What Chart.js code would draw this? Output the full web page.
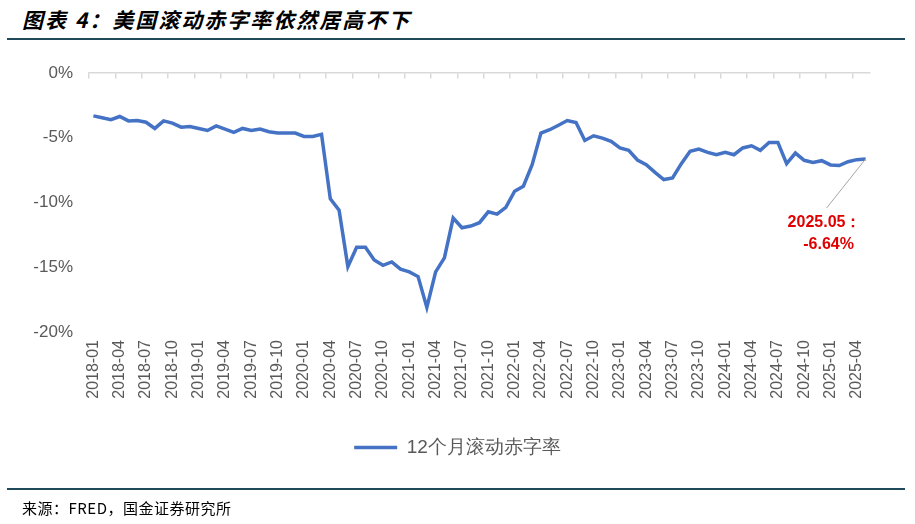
<!DOCTYPE html>
<html>
<head>
<meta charset="utf-8">
<script src="https://cdn.jsdelivr.net/npm/chart.js"></script>
<style>
  body { margin: 0; background: #fff; }
  #wrap { position: relative; width: 915px; height: 524px; overflow: hidden; }
  #title { position: absolute; left: 22px; top: 4px; font: italic bold 21px "Noto Sans CJK SC", sans-serif; color: #000; letter-spacing: 2px; }
  .rule { position: absolute; left: 7px; width: 898px; height: 1.5px; background: #1f4a5c; }
  #source { position: absolute; left: 22px; top: 497px; font: 15px "Noto Sans CJK SC", sans-serif; color: #000; letter-spacing: 0.5px; }
  canvas { position: absolute; left: 0; top: 0; }
</style>
</head>
<body>
<div id="wrap">
  <div id="title">图表 4：美国滚动赤字率依然居高不下</div>
  <div class="rule" style="top:38px"></div>
  <canvas id="canvas" width="915" height="524"></canvas>
  <div class="rule" style="top:488px"></div>
  <div id="source">来源：FRED，国金证券研究所</div>
</div>
<script>
// months 2018-01 .. 2025-05
var MONTHS = [];
for (var y = 2018; y <= 2025; y++) {
	for (var m = 1; m <= 12; m++) {
		if (y == 2025 && m > 5) break;
		MONTHS.push(y + '-' + (m < 10 ? '0' + m : m));
	}
}

var SERIES_NAME = '12个月滚动赤字率';
var DEFICIT = [
	-3.31, -3.45, -3.60, -3.36, -3.70, -3.67, -3.80, -4.28, -3.70, -3.87, -4.18, -4.13,
	-4.28, -4.44, -4.08, -4.33, -4.59, -4.28, -4.44, -4.33, -4.54, -4.64, -4.64, -4.64,
	-4.90, -4.90, -4.74, -9.72, -10.60, -14.95, -13.46, -13.46, -14.44, -14.85, -14.59, -15.15,
	-15.36, -15.72, -18.10, -15.36, -14.28, -11.20, -11.95, -11.82, -11.56, -10.72, -10.90, -10.38,
	-9.13, -8.74, -7.08, -4.64, -4.38, -4.03, -3.67, -3.82, -5.21, -4.85, -5.03, -5.28,
	-5.79, -5.97, -6.72, -7.08, -7.67, -8.23, -8.10, -7.00, -6.05, -5.87, -6.13, -6.31,
	-6.13, -6.31, -5.79, -5.62, -5.97, -5.36, -5.36, -7.00, -6.18, -6.74, -6.90, -6.77,
	-7.10, -7.15, -6.85, -6.69, -6.64
];
var Y_TICKS = [0, -5, -10, -15, -20];
var NOTE_LINES = ['2025.05：', '-6.64%'];

var BLUE = '#4472C4';
var GREY_TEXT = '#595959';

// leader line + red note for the last point
var notePlugin = {
	id: 'note',
	afterDatasetsDraw: function(chart) {
		var meta = chart.getDatasetMeta(0);
		var pt = meta.data[meta.data.length - 1];
		var ctx = chart.ctx;
		ctx.save();
		ctx.strokeStyle = '#a6a6a6';
		ctx.lineWidth = 1;
		ctx.beginPath();
		ctx.moveTo(pt.x, pt.y);
		ctx.lineTo(pt.x - 39, pt.y + 49);
		ctx.stroke();
		ctx.fillStyle = '#e00000';
		ctx.font = 'bold 16px "Liberation Sans", Arial, sans-serif';
		ctx.textBaseline = 'middle';
		ctx.textAlign = 'left';
		ctx.fillText(NOTE_LINES[0], pt.x - 78, pt.y + 64);
		ctx.textAlign = 'center';
		ctx.fillText(NOTE_LINES[1], pt.x - 37, pt.y + 86);
		ctx.restore();
	}
};

var ctx = document.getElementById('canvas').getContext('2d');
window.myChart = new Chart(ctx, {
	type: 'line',
	data: {
		labels: MONTHS,
		datasets: [{
			label: SERIES_NAME,
			data: DEFICIT,
			borderColor: BLUE,
			backgroundColor: BLUE,
			borderWidth: 3.5,
			pointRadius: 0,
			tension: 0,
			xAxisID: 'x',
			yAxisID: 'y'
		}]
	},
	options: {
		responsive: false,
		animation: false,
		layout: {
			padding: { top: 73, right: 0, bottom: 57, left: 0 }
		},
		plugins: {
			legend: {
				position: 'bottom',
				labels: {
					usePointStyle: true,
					pointStyle: 'line',
					pointStyleWidth: 43,
					color: GREY_TEXT,
					padding: 10,
					font: { family: '"Liberation Sans", Arial, sans-serif', size: 19 }
				}
			},
			tooltip: { enabled: false }
		},
		scales: {
			x: {
				type: 'category',
				position: 'bottom',
				offset: true,
				grid: { display: false },
				border: { display: false },
				ticks: {
					autoSkip: false,
					maxRotation: 90,
					minRotation: 90,
					padding: 0,
					color: GREY_TEXT,
					font: { family: '"Liberation Sans", Arial, sans-serif', size: 16 },
					callback: function(v, i) {
						return i % 3 === 0 ? MONTHS[i] : null;
					}
				},
				afterFit: function(s) { s.height = 96; }
			},
			x2: {
				type: 'category',
				position: { y: 0 },
				offset: true,
				grid: {
					offset: true,
					drawOnChartArea: false,
					drawTicks: true,
					tickLength: 5,
					lineWidth: 1.5,
					color: function(c) { return c.index % 3 === 0 ? '#d9d9d9' : 'rgba(0,0,0,0)'; }
				},
				border: { display: true, color: '#d9d9d9', width: 1.5 },
				ticks: { display: false, autoSkip: false }
			},
			y: {
				min: -20,
				max: 0,
				grid: { display: false },
				border: { display: false },
				afterBuildTicks: function(s) {
					s.ticks = Y_TICKS.map(function(v) { return { value: v }; });
				},
				ticks: {
					color: GREY_TEXT,
					padding: 8,
					font: { family: '"Liberation Sans Narrow", "Liberation Sans", Arial, sans-serif', size: 17 },
					callback: function(v) { return v + '%'; }
				},
				afterFit: function(s) { s.width = 89; }
			},
			// empty right-hand axis, only to reserve the right margin
			yRight: {
				position: 'right',
				grid: { display: false },
				border: { display: false },
				ticks: { display: false },
				afterFit: function(s) { s.width = 45; }
			}
		}
	},
	plugins: [notePlugin]
});
</script>
</body>
</html>
